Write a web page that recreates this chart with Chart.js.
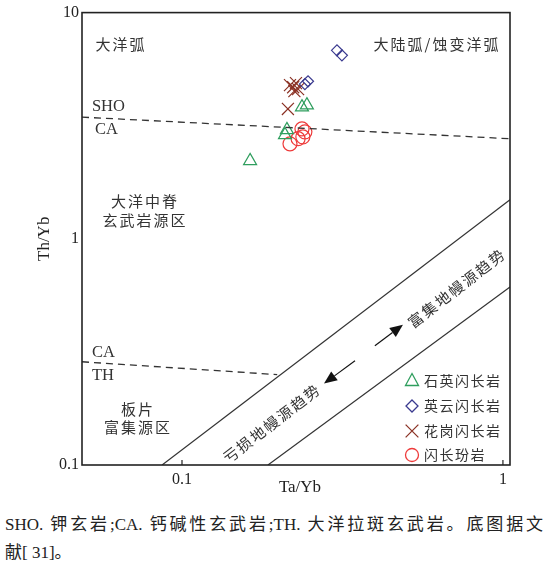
<!DOCTYPE html>
<html>
<head>
<meta charset="utf-8">
<script src="https://cdn.jsdelivr.net/npm/chart.js@4.4.1/dist/chart.umd.min.js"></script>
<style>
  body { margin: 0; background: #fff; }
  #wrap { position: relative; width: 548px; height: 562px; }
  #chart { position: absolute; left: 0; top: 0; }
  .cap { position: absolute; left: 5px; width: 538px; font: 17px "Liberation Serif", "Noto Sans CJK SC", serif; color: #222; white-space: nowrap; }
  #cap1 { top: 510px; text-align: justify; text-align-last: justify; white-space: normal; }
  #cap2 { top: 538px; }
</style>
</head>
<body>
<div id="wrap">
  <canvas id="chart" width="548" height="500"></canvas>
  <div class="cap" id="cap1">SHO. 钾玄岩;CA. 钙碱性玄武岩;TH. 大洋拉斑玄武岩。底图据文</div>
  <div class="cap" id="cap2">献[ 31]。</div>
</div>
<script>
// sample groups
const seriesNames = ["石英闪长岩", "英云闪长岩", "花岗闪长岩", "闪长玢岩"];

const taYbQzDiorite = [0.2365, 0.245, 0.2123, 0.2094, 0.163];
const thYbQzDiorite = [3.82, 3.90, 3.03, 2.88, 2.21];

const taYbTonalite = [0.304, 0.315, 0.2415, 0.247];
const thYbTonalite = [6.81, 6.47, 4.83, 4.97];

const taYbGranodiorite = [0.217, 0.222, 0.2265, 0.230, 0.224, 0.2138];
const thYbGranodiorite = [4.78, 4.68, 4.88, 4.59, 4.50, 3.75];

const taYbDioritePorph = [0.2365, 0.2415, 0.238, 0.230, 0.217];
const thYbDioritePorph = [3.06, 2.97, 2.82, 2.77, 2.63];

// boundary lines of the base diagram
const shoCaX = [0.0488, 1.052];
const shoCaY = [3.45, 2.77];
const caThX = [0.0488, 0.198];
const caThY = [0.286, 0.251];
const upperTrendX = [0.0867, 1.052];
const upperTrendY = [0.1, 1.49];
const lowerTrendX = [0.1853, 1.052];
const lowerTrendY = [0.1, 0.612];

// trend arrows [tailX, tailY, tipX, tipY]
const enrichArrow = [0.399, 0.337, 0.488, 0.417];
const depleteArrow = [0.346, 0.289, 0.277, 0.229];

// axis ticks
const xTicks = [0.1, 1];
const yTicks = [0.1, 1, 10];

// field labels
const fieldTexts = ["大洋弧", "大陆弧/蚀变洋弧", "SHO", "CA", "大洋中脊", "玄武岩源区", "CA", "TH", "板片", "富集源区", "富集地幔源趋势", "亏损地幔源趋势"];
const fieldX = [0.0646, 0.623, 0.0524, 0.0536, 0.0767, 0.0767, 0.0524, 0.0524, 0.0729, 0.0729, 0.719, 0.1907];
const fieldY = [7.23, 7.23, 3.82, 3.03, 1.46, 1.206, 0.314, 0.2486, 0.176, 0.1469, 0.606, 0.153];
const fieldAngle = [0, 0, 0, 0, 0, 0, 0, 0, 0, 0, -37.7, -37.7];

const pts = (xs, ys) => xs.map((v, i) => ({ x: v, y: ys[i] }));

const markerColors = ["#2f9e5e", "#3a3a8f", "#8b3225", "#ee3b3b"];
const markerStyles = ["triangle", "rectRot", "crossRot", "circle"];
const markerSizes = [7.5, 5.5, 8.5, 7];

function boundary(xs, ys, dash) {
  return {
    type: "line",
    data: pts(xs, ys),
    borderColor: "#333",
    borderWidth: dash ? 1.3 : 1.2,
    borderDash: dash ? [7, 5] : [],
    pointRadius: 0,
    fill: false
  };
}

function group(i, xs, ys) {
  return {
    label: seriesNames[i],
    data: pts(xs, ys),
    pointStyle: markerStyles[i],
    pointRadius: markerSizes[i],
    borderColor: markerColors[i],
    backgroundColor: "rgba(0,0,0,0)",
    borderWidth: 1.2
  };
}

const cjkFont = '15px "Noto Sans CJK SC", sans-serif';
const latinFont = '16.5px "Liberation Serif", serif';

function drawMarker(ctx, style, x, y, r, color) {
  ctx.save();
  ctx.strokeStyle = color;
  ctx.lineWidth = 1.3;
  ctx.beginPath();
  if (style === "triangle") {
    ctx.moveTo(x, y - r);
    ctx.lineTo(x + r * 0.87, y + r * 0.6);
    ctx.lineTo(x - r * 0.87, y + r * 0.6);
    ctx.closePath();
  } else if (style === "rectRot") {
    ctx.moveTo(x, y - r); ctx.lineTo(x + r, y); ctx.lineTo(x, y + r); ctx.lineTo(x - r, y);
    ctx.closePath();
  } else if (style === "crossRot") {
    const d = r * 0.75;
    ctx.moveTo(x - d, y - d); ctx.lineTo(x + d, y + d);
    ctx.moveTo(x + d, y - d); ctx.lineTo(x - d, y + d);
  } else {
    ctx.arc(x, y, r, 0, Math.PI * 2);
  }
  ctx.stroke();
  ctx.restore();
}

function drawArrow(ctx, x, y, a) {
  const x0 = x.getPixelForValue(a[0]), y0 = y.getPixelForValue(a[1]);
  const x1 = x.getPixelForValue(a[2]), y1 = y.getPixelForValue(a[3]);
  const ang = Math.atan2(y1 - y0, x1 - x0);
  const len = 13, half = 5.5;
  const bx = x1 - len * Math.cos(ang), by = y1 - len * Math.sin(ang);
  ctx.strokeStyle = "#111";
  ctx.fillStyle = "#111";
  ctx.lineWidth = 1.2;
  ctx.beginPath(); ctx.moveTo(x0, y0); ctx.lineTo(bx, by); ctx.stroke();
  ctx.beginPath();
  ctx.moveTo(x1, y1);
  ctx.lineTo(bx + half * Math.sin(ang), by - half * Math.cos(ang));
  ctx.lineTo(bx - half * Math.sin(ang), by + half * Math.cos(ang));
  ctx.closePath(); ctx.fill();
}

const overlay = {
  id: "overlay",
  afterDatasetsDraw(chart) {
    const { ctx, chartArea: a, scales: { x, y } } = chart;
    ctx.save();

    // frame
    ctx.strokeStyle = "#222";
    ctx.lineWidth = 1.6;
    ctx.strokeRect(a.left, a.top, a.right - a.left, a.bottom - a.top);

    // inner ticks
    ctx.lineWidth = 1.2;
    xTicks.forEach(v => {
      const px = x.getPixelForValue(v);
      ctx.beginPath(); ctx.moveTo(px, a.bottom); ctx.lineTo(px, a.bottom - 5); ctx.stroke();
    });

    // field labels
    ctx.fillStyle = "#333";
    ctx.textBaseline = "middle";
    fieldTexts.forEach((t, i) => {
      const latin = /^[A-Z]+$/.test(t);
      ctx.font = latin ? latinFont : cjkFont;
      ctx.letterSpacing = latin ? "0px" : "2px";
      ctx.textAlign = latin ? "left" : "center";
      ctx.save();
      ctx.translate(x.getPixelForValue(fieldX[i]), y.getPixelForValue(fieldY[i]));
      ctx.rotate(fieldAngle[i] * Math.PI / 180);
      ctx.fillText(t, 0, 0);
      ctx.restore();
    });
    ctx.letterSpacing = "0px";

    // arrows
    drawArrow(ctx, x, y, enrichArrow);
    drawArrow(ctx, x, y, depleteArrow);

    // legend
    const rows = [84, 59, 34, 10];
    seriesNames.forEach((n, i) => {
      const ly = a.bottom - rows[i];
      drawMarker(ctx, markerStyles[i], a.right - 98, ly, [7.5, 6, 8.5, 6.5][i], markerColors[i]);
      ctx.fillStyle = "#333";
      ctx.font = '14px "Noto Sans CJK SC", sans-serif';
      ctx.letterSpacing = "1.5px";
      ctx.textAlign = "left";
      ctx.fillText(n, a.right - 86, ly);
    });
    ctx.letterSpacing = "0px";

    // axis titles
    ctx.fillStyle = "#222";
    ctx.font = '17px "Liberation Serif", serif';
    ctx.textAlign = "center";
    ctx.fillText("Ta/Yb", (a.left + a.right) / 2 + 4, 488);
    ctx.save();
    ctx.translate(45, (a.top + a.bottom) / 2);
    ctx.rotate(-Math.PI / 2);
    ctx.fillText("Th/Yb", 0, 0);
    ctx.restore();

    ctx.restore();
  }
};

document.addEventListener("DOMContentLoaded", () => {
  const ctx = document.getElementById("chart");

  new Chart(ctx, {
    type: "scatter",
    data: {
      datasets: [
        boundary(shoCaX, shoCaY, true),
        boundary(caThX, caThY, true),
        boundary(upperTrendX, upperTrendY, false),
        boundary(lowerTrendX, lowerTrendY, false),
        group(0, taYbQzDiorite, thYbQzDiorite),
        group(1, taYbTonalite, thYbTonalite),
        group(2, taYbGranodiorite, thYbGranodiorite),
        group(3, taYbDioritePorph, thYbDioritePorph)
      ]
    },
    options: {
      responsive: false,
      animation: false,
      layout: { padding: { left: 0, right: 38, top: 10, bottom: 0 } },
      plugins: { legend: { display: false }, tooltip: { enabled: false } },
      scales: {
        x: {
          type: "logarithmic",
          min: 0.0488,
          max: 1.052,
          grid: { display: false, drawTicks: false },
          border: { display: false },
          afterBuildTicks: s => { s.ticks = xTicks.map(v => ({ value: v })); },
          afterFit: s => { s.height = 35; },
          ticks: {
            padding: 5,
            color: "#222",
            font: { family: "Liberation Serif", size: 16 },
            callback: v => String(v)
          }
        },
        y: {
          type: "logarithmic",
          min: 0.1,
          max: 10,
          grid: { display: false, drawTicks: false },
          border: { display: false },
          afterBuildTicks: s => { s.ticks = yTicks.map(v => ({ value: v })); },
          afterFit: s => { s.width = 82; },
          ticks: {
            padding: 3,
            color: "#222",
            font: { family: "Liberation Serif", size: 16 },
            callback: v => String(v)
          }
        }
      }
    },
    plugins: [overlay]
  });
});
</script>
</body>
</html>
